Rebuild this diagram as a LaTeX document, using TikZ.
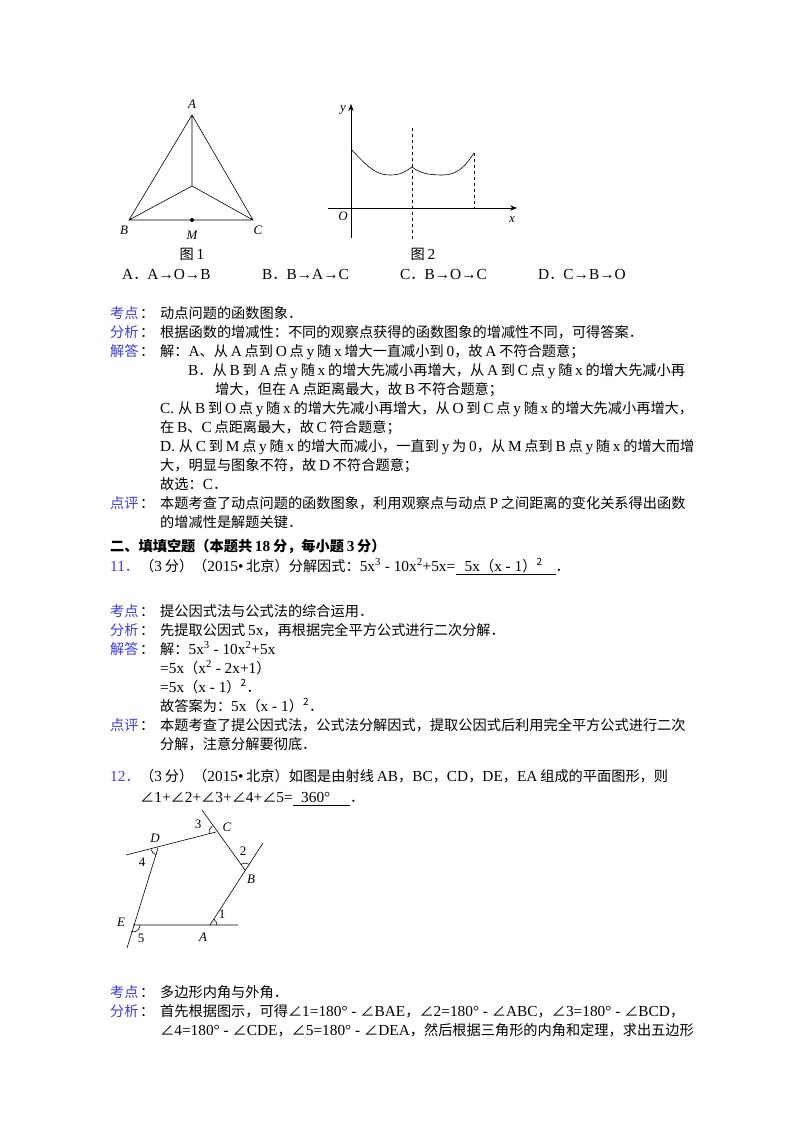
\documentclass[tikz,border=0pt]{standalone}
\usepackage{fontspec}
\usetikzlibrary{angles,arrows.meta}
\setmainfont[Scale=1.08]{Liberation Serif}
\newfontfamily\cjk{Noto Sans CJK SC}
\XeTeXinterchartokenstate=1
\newXeTeXintercharclass\cjkclass
\newXeTeXintercharclass\cjkpunct
\count255="4E00
\loop\ifnum\count255<"A000 \XeTeXcharclass\count255=\cjkclass \advance\count255 by 1 \repeat
\count255="FF00
\loop\ifnum\count255<"FFF0 \XeTeXcharclass\count255=\cjkpunct \advance\count255 by 1 \repeat
\count255="3000
\loop\ifnum\count255<"3040 \XeTeXcharclass\count255=\cjkpunct \advance\count255 by 1 \repeat
\XeTeXcharclass"2220=\cjkpunct
\XeTeXinterchartoks 0 \cjkclass = {\hskip0.18em\cjk}
\XeTeXinterchartoks 4095 \cjkclass = {\cjk}
\XeTeXinterchartoks \cjkclass 0 = {\rmfamily\hskip0.18em}
\XeTeXinterchartoks 0 \cjkpunct = {\cjk}
\XeTeXinterchartoks 4095 \cjkpunct = {\cjk}
\XeTeXinterchartoks \cjkpunct 0 = {\rmfamily}
\definecolor{lab}{RGB}{60,60,225}
\newcommand{\sups}[1]{\textsuperscript{#1}}
\begin{document}
\begin{tikzpicture}[x=1pt,y=-1pt,
 t/.style={anchor=base west,inner sep=0,font=\fontsize{14.2}{15}\selectfont},
 lb/.style={t,text=lab},
 fl/.style={inner sep=1pt,font=\fontsize{12}{14}\selectfont\itshape},
 ln/.style={line width=0.6pt}]
\useasboundingbox[fill=white] (0,0) rectangle (800,1132);
% Figure 1
\coordinate (A) at (192,115); \coordinate (B) at (129,220); \coordinate (C) at (253,220);
\coordinate (O) at (192,186); \coordinate (M) at (192,220);
\draw[ln] (A)--(B)--(C)--cycle (A)--(O) (B)--(O)--(C);
\fill (M) circle (2pt);
\node[fl] (lA) at (192,104) {A}; \node[fl] (lB) at (124,230) {B};
\node[fl] (lC) at (258,230) {C}; \node[fl] (lM) at (192,235) {M};
\node[t,anchor=base] (f1) at (192,259) {图1};
% Figure 2
\coordinate (O2) at (351,208);
\draw[ln,-{Stealth[length=7pt]}] (351,238)--(351,104) coordinate (yt);
\draw[ln,-{Stealth[length=7pt]}] (328,208)--(517,208) coordinate (xt);
\node[fl] (ly) at (343,110) {y}; \node[fl] (lx) at (512,220) {x}; \node[fl] (lO) at (343,216) {O};
\draw[ln] (351,149) .. controls (370,170) and (378,175) .. (390,175) .. controls (400,175) and (405,172) .. (412,167)
 .. controls (419,172) and (425,175) .. (443,175) .. controls (458,175) and (466,165) .. (474,153);
\draw[ln,dashed] (412,128)--(412,240);
\draw[ln,dashed] (474,153)--(474,208);
\node[t,anchor=base] (f2) at (423,259) {图2};
% options
\node[t] (oa) at (122,279) {A．A→O→B};
\node[t] (ob) at (262,279) {B．B→A→C};
\node[t] (oc) at (400,279) {C．B→O→C};
\node[t] (od) at (538,279) {D．C→B→O};
% analysis 1
\node[lb] (k1) at (110,318) {考点};\node[t] at (140,318) {：};
\node[t] at (160,318) {动点问题的函数图象．};
\node[lb] (k2) at (110,337) {分析};\node[t] at (140,337) {：};
\node[t] at (160,337) {根据函数的增减性：不同的观察点获得的函数图象的增减性不同，可得答案．};
\node[lb] (k3) at (110,356) {解答};\node[t] at (140,356) {：};
\node[t] at (160,356) {解：A、从A点到O点y随x增大一直减小到0，故A不符合题意；};
\node[t] at (188,375) {B．从B到A点y随x的增大先减小再增大，从A到C点y随x的增大先减小再};
\node[t] at (215,394) {增大，但在A点距离最大，故B不符合题意；};
\node[t] at (160,413) {C. 从B到O点y随x的增大先减小再增大，从O到C点y随x的增大先减小再增大，};
\node[t] at (160,432) {在B、C点距离最大，故C符合题意；};
\node[t] at (160,451) {D. 从C到M点y随x的增大而减小，一直到y为0，从M点到B点y随x的增大而增};
\node[t] at (160,470) {大，明显与图象不符，故D不符合题意；};
\node[t] at (160,489) {故选：C．};
\node[lb] (k4) at (110,508) {点评};\node[t] at (140,508) {：};
\node[t] at (160,508) {本题考查了动点问题的函数图象，利用观察点与动点P之间距离的变化关系得出函数};
\node[t] at (160,527) {的增减性是解题关键．};
% section 2
\node[t,font=\fontsize{14.2}{15}\selectfont\bfseries] (sec) at (110,551) {二、填填空题（本题共18分，每小题3分）};
\node[lb] (q11) at (110,571) {11．};
\node[t] (p11) at (140,571) {（3分）（2015•北京）分解因式：5x\sups{3} - 10x\sups{2}+5x=};
\node[t] (a11) at ([xshift=9pt]p11.base east) {5x（x - 1）\sups{2}};
\draw[ln] ([yshift=-3pt]p11.base east) -- ++(100pt,0) coordinate (u11);
\node[t] (d11) at ([yshift=3pt]u11) {．};
\node[lb] at (110,616) {考点};\node[t] at (140,616) {：};
\node[t] at (160,616) {提公因式法与公式法的综合运用．};
\node[lb] at (110,635) {分析};\node[t] at (140,635) {：};
\node[t] at (160,635) {先提取公因式5x，再根据完全平方公式进行二次分解．};
\node[lb] at (110,654) {解答};\node[t] at (140,654) {：};
\node[t] at (160,654) {解：5x\sups{3} - 10x\sups{2}+5x};
\node[t] at (160,673) {=5x（x\sups{2} - 2x+1）};
\node[t] at (160,692) {=5x（x - 1）\sups{2}．};
\node[t] at (160,711) {故答案为：5x（x - 1）\sups{2}．};
\node[lb] at (110,730) {点评};\node[t] at (140,730) {：};
\node[t] at (160,730) {本题考查了提公因式法，公式法分解因式，提取公因式后利用完全平方公式进行二次};
\node[t] at (160,749) {分解，注意分解要彻底．};
% q12
\node[lb] (q12) at (110,781) {12．};
\node[t] at (140,781) {（3分）（2015•北京）如图是由射线AB，BC，CD，DE，EA组成的平面图形，则};
\node[t] (p12) at (140,802) {∠1+∠2+∠3+∠4+∠5=};
\node[t] (a12) at ([xshift=8pt]p12.base east) {360°};
\draw[ln] ([yshift=-3pt]p12.base east) -- ++(57pt,0) coordinate (u12);
\node[t] (d12) at ([yshift=3pt]u12) {．};
% pentagon
\coordinate (PA) at (210,925); \coordinate (PB) at (245,870); \coordinate (PC) at (216,832);
\coordinate (PD) at (158,848); \coordinate (PE) at (133,925);
\coordinate (Aext) at (238,925); \coordinate (Bext) at (263,843); \coordinate (Cext) at (202,810);
\coordinate (Dext) at (126,855); \coordinate (Eext) at (127,948);
\draw[ln] (PE)--(Aext) (PA)--(Bext) (PB)--(Cext) (PC)--(Dext) (PD)--(Eext);
\draw[ln] pic[draw,angle radius=7pt] {angle=Aext--PA--PB};
\draw[ln] pic[draw,angle radius=7pt] {angle=Bext--PB--PC};
\draw[ln] pic[draw,angle radius=7pt] {angle=Cext--PC--PD};
\draw[ln] pic[draw,angle radius=7pt] {angle=Dext--PD--PE};
\draw[ln] pic[draw,angle radius=7pt] {angle=Eext--PE--PA};
\node[fl] at (155,838) {D}; \node[fl] at (227,827) {C}; \node[fl] at (251,879) {B};
\node[fl] at (203,937) {A}; \node[fl] at (121,922) {E};
\node[fl,font=\fontsize{12}{14}\selectfont] at (222,914) {1};
\node[fl,font=\fontsize{12}{14}\selectfont] at (243,851) {2};
\node[fl,font=\fontsize{12}{14}\selectfont] at (198,824) {3};
\node[fl,font=\fontsize{12}{14}\selectfont] at (142,862) {4};
\node[fl,font=\fontsize{12}{14}\selectfont] at (141,938) {5};
% analysis 3
\node[lb] at (110,997) {考点};\node[t] at (140,997) {：};
\node[t] at (160,997) {多边形内角与外角．};
\node[lb] at (110,1016) {分析};\node[t] at (140,1016) {：};
\node[t] at (160,1016) {首先根据图示，可得∠1=180° - ∠BAE，∠2=180° - ∠ABC，∠3=180° - ∠BCD，};
\node[t] at (160,1035) {∠4=180° - ∠CDE，∠5=180° - ∠DEA，然后根据三角形的内角和定理，求出五边形};
\end{tikzpicture}
\end{document}
